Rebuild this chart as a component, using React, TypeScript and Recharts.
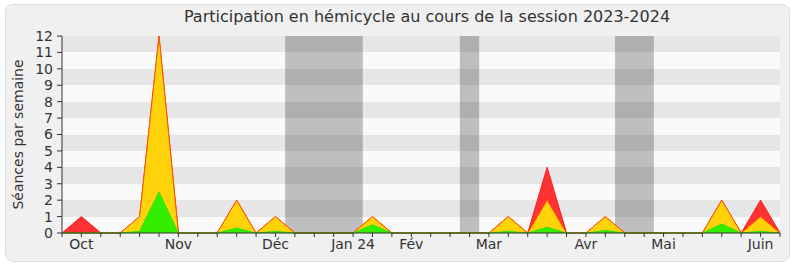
import React from 'react';
import { ComposedChart, Area, XAxis, YAxis, CartesianGrid, ReferenceArea } from 'recharts';

// weekly points, Oct 2023 -> Jun 2024
const weeks = Array.from({ length: 38 }, (_, i) => i);
const redValues = [0, 1, 0, 0, 1, 12, 0, 0, 0, 2, 0, 1, 0, 0, 0, 0, 1, 0, 0, 0, 0, 0, 0, 1, 0, 4, 0, 0, 1, 0, 0, 0, 0, 0, 2, 0, 2, 0];
const yellowValues = [0, 0, 0, 0, 1, 12, 0, 0, 0, 2, 0, 1, 0, 0, 0, 0, 1, 0, 0, 0, 0, 0, 0, 1, 0, 2, 0, 0, 1, 0, 0, 0, 0, 0, 2, 0, 1, 0];
const greenValues = [0, 0, 0, 0, 0.1, 2.5, 0, 0, 0, 0.3, 0, 0.1, 0, 0, 0, 0, 0.5, 0, 0, 0, 0, 0, 0, 0.1, 0, 0.35, 0, 0, 0.15, 0, 0, 0, 0, 0, 0.55, 0, 0.1, 0];

const monthWeeks = [1, 6, 11, 15, 18, 22, 27, 31, 36];
const monthNames = ['Oct', 'Nov', 'Déc', 'Jan 24', 'Fév', 'Mar', 'Avr', 'Mai', 'Juin'];

// parliamentary breaks (in week units)
const breakStarts = [11.5, 20.5, 28.5];
const breakEnds = [15.5, 21.5, 30.5];

const yTicks = [0, 1, 2, 3, 4, 5, 6, 7, 8, 9, 10, 11, 12];

const data = weeks.map((w, i) => ({
  week: w,
  red: redValues[i],
  yellow: yellowValues[i],
  green: greenValues[i],
}));

const font = '"DejaVu Sans", Verdana, sans-serif';

export default function App() {
  return (
    <div style={{ position: 'absolute', left: 0, top: 0, width: 800, height: 267, background: '#fff', fontFamily: font }}>
      <div
        style={{
          position: 'absolute',
          left: 5,
          top: 4,
          width: 783,
          height: 256,
          background: '#f0f0f0',
          border: '1px solid #dedede',
          borderRadius: 8,
        }}
      />
      <div
        style={{
          position: 'absolute',
          left: 0,
          width: 854,
          top: 7,
          textAlign: 'center',
          fontSize: 16,
          color: '#333',
          whiteSpace: 'nowrap',
        }}
      >
        Participation en hémicycle au cours de la session 2023-2024
      </div>
      <div style={{ position: 'absolute', left: 0, top: 0 }}>
        <ComposedChart width={800} height={267} data={data} margin={{ top: 36, right: 20, bottom: 4, left: 0 }}>
          <CartesianGrid
            vertical={false}
            stroke="none"
            horizontalFill={['#e6e6e6', '#fafafa']}
            yAxisId="left"
          />
          {breakStarts.map((s, i) => (
            <ReferenceArea
              key={i}
              yAxisId="left"
              x1={s}
              x2={breakEnds[i]}
              y1={0}
              y2={12}
              fill="#000"
              fillOpacity={0.24}
              stroke="none"
            />
          ))}
          <XAxis
            dataKey="week"
            type="number"
            domain={[0, 37]}
            ticks={weeks}
            interval={0}
            height={30}
            tickSize={4}
            tickMargin={2}
            tickFormatter={(v: number) => {
              const k = monthWeeks.indexOf(v);
              return k >= 0 ? monthNames[k] : '';
            }}
            tick={{ fill: '#333', fontSize: 14, fontFamily: font }}
            axisLine={{ stroke: '#333' }}
            tickLine={{ stroke: '#333' }}
          />
          <XAxis
            xAxisId="top"
            orientation="top"
            dataKey="week"
            type="number"
            domain={[0, 37]}
            ticks={weeks}
            interval={0}
            height={0}
            tickSize={2}
            tickFormatter={() => ''}
            axisLine={false}
            tickLine={{ stroke: '#222' }}
          />
          <YAxis
            yAxisId="left"
            domain={[0, 12]}
            ticks={yTicks}
            interval={0}
            width={62}
            tickSize={5}
            tickMargin={4}
            tick={{ fill: '#333', fontSize: 14, fontFamily: font }}
            axisLine={{ stroke: '#333' }}
            tickLine={{ stroke: '#333' }}
            label={{
              value: 'Séances par semaine',
              content: (props: any) => {
                const vb = props.viewBox || { y: 36, height: 197 };
                const cy = vb.y + vb.height / 2;
                return (
                  <text
                    x={18}
                    y={cy}
                    transform={`rotate(-90, 18, ${cy})`}
                    textAnchor="middle"
                    dominantBaseline="central"
                    fill="#333"
                    fontSize={14}
                    fontFamily={font}
                  >
                    Séances par semaine
                  </text>
                );
              },
            }}
          />
          <YAxis
            yAxisId="right"
            orientation="right"
            domain={[0, 12]}
            width={0}
            tick={false}
            tickLine={false}
            axisLine={{ stroke: '#cccccc' }}
          />
          <Area
            yAxisId="left"
            type="linear"
            dataKey="red"
            fill="#ff3333"
            fillOpacity={1}
            stroke="#ff1a1a"
            strokeWidth={1}
            dot={false}
            activeDot={false}
            isAnimationActive={false}
          />
          <Area
            yAxisId="left"
            type="linear"
            dataKey="yellow"
            fill="#ffd20a"
            fillOpacity={1}
            stroke="#ff5500"
            strokeWidth={1}
            dot={false}
            activeDot={false}
            isAnimationActive={false}
          />
          <Area
            yAxisId="left"
            type="linear"
            dataKey="green"
            fill="#33ee00"
            fillOpacity={1}
            stroke="#33e000"
            strokeWidth={1}
            dot={false}
            activeDot={false}
            isAnimationActive={false}
          />
        </ComposedChart>
      </div>
    </div>
  );
}
